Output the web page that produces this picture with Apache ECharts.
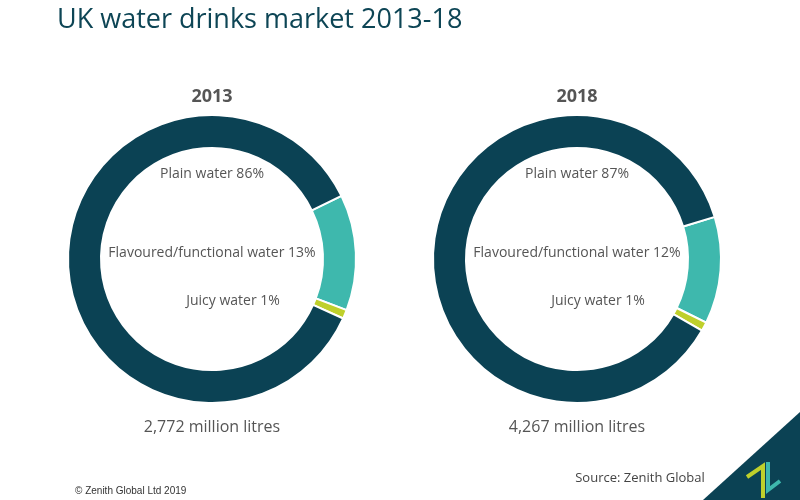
<!DOCTYPE html>
<html>
<head>
<meta charset="utf-8">
<script src="https://cdn.jsdelivr.net/npm/echarts@6/dist/echarts.min.js"></script>
<style>html,body{margin:0;padding:0;background:#fff}#c{width:800px;height:500px}</style>
</head>
<body>
<div id="c"></div>
<script>
var categories = ['Flavoured/functional water', 'Juicy water', 'Plain water'];
var values2013 = [13, 1, 86];
var values2018 = [12, 1, 87];
var years = ['2013', '2018'];
var totals = ['2,772 million litres', '4,267 million litres'];
var colors = ['#3eb8ad', '#bfd02b', '#0b4254'];

var chart = echarts.init(document.getElementById('c'));
var font = '"Open Sans", "DejaVu Sans", sans-serif';

function pie(vals, cx, start) {
  return {
    type: 'pie',
    center: [cx, 259],
    radius: [111, 144],
    startAngle: start,
    clockwise: true,
    silent: true,
    label: { show: false },
    labelLine: { show: false },
    itemStyle: { borderColor: '#fff', borderWidth: 2 },
    data: categories.map(function (c, i) {
      return { name: c, value: vals[i], itemStyle: { color: colors[i] } };
    })
  };
}

function labelTexts(vals, cx) {
  var t = { fill: '#555', font: '14px ' + font, textAlign: 'center', textVerticalAlign: 'middle' };
  return [
    { type: 'text', x: cx, y: 174, style: Object.assign({ text: categories[2] + ' ' + vals[2] + '%' }, t) },
    { type: 'text', x: cx, y: 253, style: Object.assign({ text: categories[0] + ' ' + vals[0] + '%' }, t) },
    { type: 'text', x: cx + 21, y: 301, style: Object.assign({ text: categories[1] + ' ' + vals[1] + '%' }, t) }
  ];
}

var centers = [212, 577];
var g = [
  { type: 'text', x: 57, y: 20, style: { text: 'UK water drinks market 2013-18', fill: '#0d4555', font: '27px ' + font, textVerticalAlign: 'middle' } },
  { type: 'text', x: 640, y: 478, style: { text: 'Source: Zenith Global', fill: '#444', font: '13px ' + font, textAlign: 'center', textVerticalAlign: 'middle' } },
  { type: 'text', x: 75, y: 491, style: { text: '\u00a9 Zenith Global Ltd 2019', fill: '#333', font: '10px "Liberation Sans", Arial, sans-serif', textVerticalAlign: 'middle' } },
  { type: 'polygon', shape: { points: [[703, 500], [800, 412], [800, 500]] }, style: { fill: '#0b4254' } },
  { type: 'polyline', shape: { points: [[747, 477], [763, 466], [763, 498]] }, style: { stroke: '#bfd02b', lineWidth: 4, fill: null, lineJoin: 'miter' } },
  { type: 'polyline', shape: { points: [[768, 462], [768, 490], [780, 481]] }, style: { stroke: '#3eb8ad', lineWidth: 4, fill: null, lineJoin: 'miter' } }
];
[values2013, values2018].forEach(function (v, i) {
  var cx = centers[i];
  g.push({ type: 'text', x: cx, y: 97, style: { text: years[i], fill: '#555', font: 'bold 18px ' + font, textAlign: 'center', textVerticalAlign: 'middle' } });
  g.push({ type: 'text', x: cx, y: 427, style: { text: totals[i], fill: '#555', font: '16px ' + font, textAlign: 'center', textVerticalAlign: 'middle' } });
  g = g.concat(labelTexts(v, cx));
});

chart.setOption({
  animation: false,
  backgroundColor: '#fff',
  series: [pie(values2013, centers[0], 26), pie(values2018, centers[1], 17)],
  graphic: g
});
</script>
</body>
</html>
